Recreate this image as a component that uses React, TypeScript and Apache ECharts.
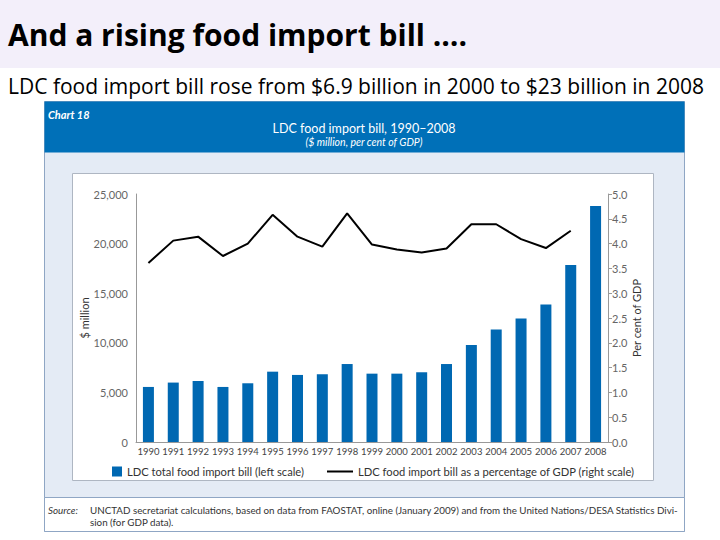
import React, { useEffect, useRef } from "react";
import * as echarts from "echarts";

const years = [
  "1990", "1991", "1992", "1993", "1994", "1995", "1996", "1997", "1998", "1999",
  "2000", "2001", "2002", "2003", "2004", "2005", "2006", "2007", "2008",
];
const importBill = [
  5550, 5990, 6150, 5550, 5920, 7090, 6760, 6830, 7860, 6890,
  6890, 7030, 7860, 9770, 11350, 12450, 13860, 17840, 23800,
];
const pctGdp: (number | null)[] = [
  3.61, 4.06, 4.14, 3.75, 4.0, 4.58, 4.14, 3.94, 4.61, 3.98,
  3.88, 3.82, 3.9, 4.39, 4.39, 4.09, 3.91, 4.26, null,
];
const barName = "LDC total food import bill (left scale)";
const lineName = "LDC food import bill as a percentage of GDP (right scale)";
const titleText = "And a rising food import bill \u2026.";
const subtitleText = "LDC food import bill rose from $6.9 billion in 2000 to $23 billion in 2008";
const sourceLine1 =
  "UNCTAD secretariat calculations, based on data from FAOSTAT, online (January 2009) and from the United Nations/DESA Statistics Divi-";
const sourceLine2 = "sion (for GDP data).";

const FONT = "Lato, 'Open Sans', sans-serif";
const HEAD_FONT = "'Open Sans', Lato, sans-serif";
const BAR = "#0068B2";
const HEADER_BLUE = "#0070B8";

export default function App() {
  const ref = useRef<HTMLDivElement>(null);
  useEffect(() => {
    if (!ref.current) return;
    const chart = echarts.init(ref.current, undefined, { renderer: "svg" });
    const option: any = {
      animation: false,
      backgroundColor: "#ffffff",
      textStyle: { fontFamily: FONT },
      graphic: {
        elements: [
          { type: "rect", z: -10, shape: { x: 0, y: 0, width: 720, height: 68 }, style: { fill: "#F3EFFA" } },
          { type: "text", z: 5, x: 8, y: 34, style: { text: titleText, font: `bold 30px ${HEAD_FONT}`, fill: "#000", textVerticalAlign: "middle" } },
          { type: "text", z: 5, x: 8, y: 86, style: { text: subtitleText, font: `21px ${HEAD_FONT}`, fill: "#000", textVerticalAlign: "middle" } },
          { type: "rect", z: -10, shape: { x: 44.5, y: 101.5, width: 640, height: 430 }, style: { fill: "#E4EBF5", stroke: "#8FA6C4", lineWidth: 1 } },
          { type: "rect", z: -9, shape: { x: 44.5, y: 101.5, width: 640, height: 51 }, style: { fill: HEADER_BLUE } },
          { type: "rect", z: -9, shape: { x: 72.5, y: 173.5, width: 581, height: 307 }, style: { fill: "#fff", stroke: "#AEB6C2", lineWidth: 1 } },
          { type: "rect", z: -9, shape: { x: 44.5, y: 497.5, width: 640, height: 34 }, style: { fill: "#fff", stroke: "#8FA6C4", lineWidth: 1 } },
          { type: "text", z: 5, x: 48, y: 114, style: { text: "Chart 18", font: `italic bold 11px ${FONT}`, fill: "#fff", textVerticalAlign: "middle" } },
          { type: "text", z: 5, x: 364, y: 128, style: { text: "LDC food import bill, 1990\u20132008", font: `12.5px ${FONT}`, fill: "#fff", textAlign: "center", textVerticalAlign: "middle" } },
          { type: "text", z: 5, x: 364, y: 142, style: { text: "($ million, per cent of GDP)", font: `italic 10.5px ${FONT}`, fill: "#fff", textAlign: "center", textVerticalAlign: "middle" } },
          { type: "text", z: 5, x: 48, y: 510, style: { text: "Source:", font: `italic 9.8px ${FONT}`, fill: "#333", textVerticalAlign: "middle" } },
          { type: "text", z: 5, x: 90, y: 510, style: { text: sourceLine1, font: `9.8px ${FONT}`, fill: "#333", textVerticalAlign: "middle" } },
          { type: "text", z: 5, x: 90, y: 522, style: { text: sourceLine2, font: `9.8px ${FONT}`, fill: "#333", textVerticalAlign: "middle" } },
        ],
      },
      grid: { left: 136, top: 194, width: 472, height: 248, containLabel: false },
      legend: [
        {
          data: [{ name: barName, icon: "rect" }],
          left: 107, top: 461, itemWidth: 10, itemHeight: 10, itemGap: 6,
          textStyle: { fontFamily: FONT, fontSize: 11.2, color: "#333" },
        },
        {
          data: [{ name: lineName, icon: "rect" }],
          left: 322, top: 461, itemWidth: 26, itemHeight: 2,
          textStyle: { fontFamily: FONT, fontSize: 11.2, color: "#333" },
        },
      ],
      xAxis: [
        {
          type: "category",
          data: years,
          axisLine: { show: false },
          axisTick: { show: false },
          axisLabel: { interval: 0, fontSize: 9.5, color: "#444", margin: 4, fontFamily: FONT },
        },
        {
          type: "category",
          data: years,
          position: "top",
          axisLine: { show: true, lineStyle: { color: "#999", width: 1 } },
          axisTick: { show: false },
          axisLabel: { show: false },
        },
      ],
      yAxis: [
        {
          type: "value",
          min: 0, max: 25000, interval: 5000,
          axisLine: { show: true, lineStyle: { color: "#999", width: 1 } },
          axisTick: { show: false },
          splitLine: { show: false },
          axisLabel: {
            fontSize: 11, color: "#666", margin: 8, fontFamily: FONT,
            formatter: (v: number) => v.toLocaleString("en-US"),
          },
          name: "$ million",
          nameLocation: "middle",
          nameRotate: 90,
          nameGap: 46,
          nameMoveOverlap: false,
          nameTextStyle: { fontSize: 11, color: "#333", fontFamily: FONT },
        },
        {
          type: "value",
          min: 0, max: 5, interval: 0.5,
          position: "right",
          axisLine: { show: true, lineStyle: { color: "#999", width: 1 } },
          axisTick: { show: true, length: 4, lineStyle: { color: "#999" } },
          splitLine: { show: false },
          axisLabel: {
            fontSize: 11, color: "#666", margin: 4, fontFamily: FONT,
            formatter: (v: number) => v.toFixed(1),
          },
          name: "Per cent of GDP",
          nameLocation: "middle",
          nameRotate: 90,
          nameGap: 23,
          nameMoveOverlap: false,
          nameTextStyle: { fontSize: 11, color: "#333", fontFamily: FONT },
        },
      ],
      series: [
        {
          name: barName,
          type: "bar",
          data: importBill,
          barWidth: 11,
          itemStyle: { color: BAR },
        },
        {
          name: lineName,
          type: "line",
          yAxisIndex: 1,
          data: pctGdp,
          symbol: "none",
          lineStyle: { color: "#000", width: 2 },
          itemStyle: { color: "#000" },
        },
      ],
    };
    chart.setOption(option);
    return () => chart.dispose();
  }, []);
  return (
    <div
      ref={ref}
      style={{ position: "fixed", left: 0, top: 0, width: 720, height: 540 }}
    />
  );
}
